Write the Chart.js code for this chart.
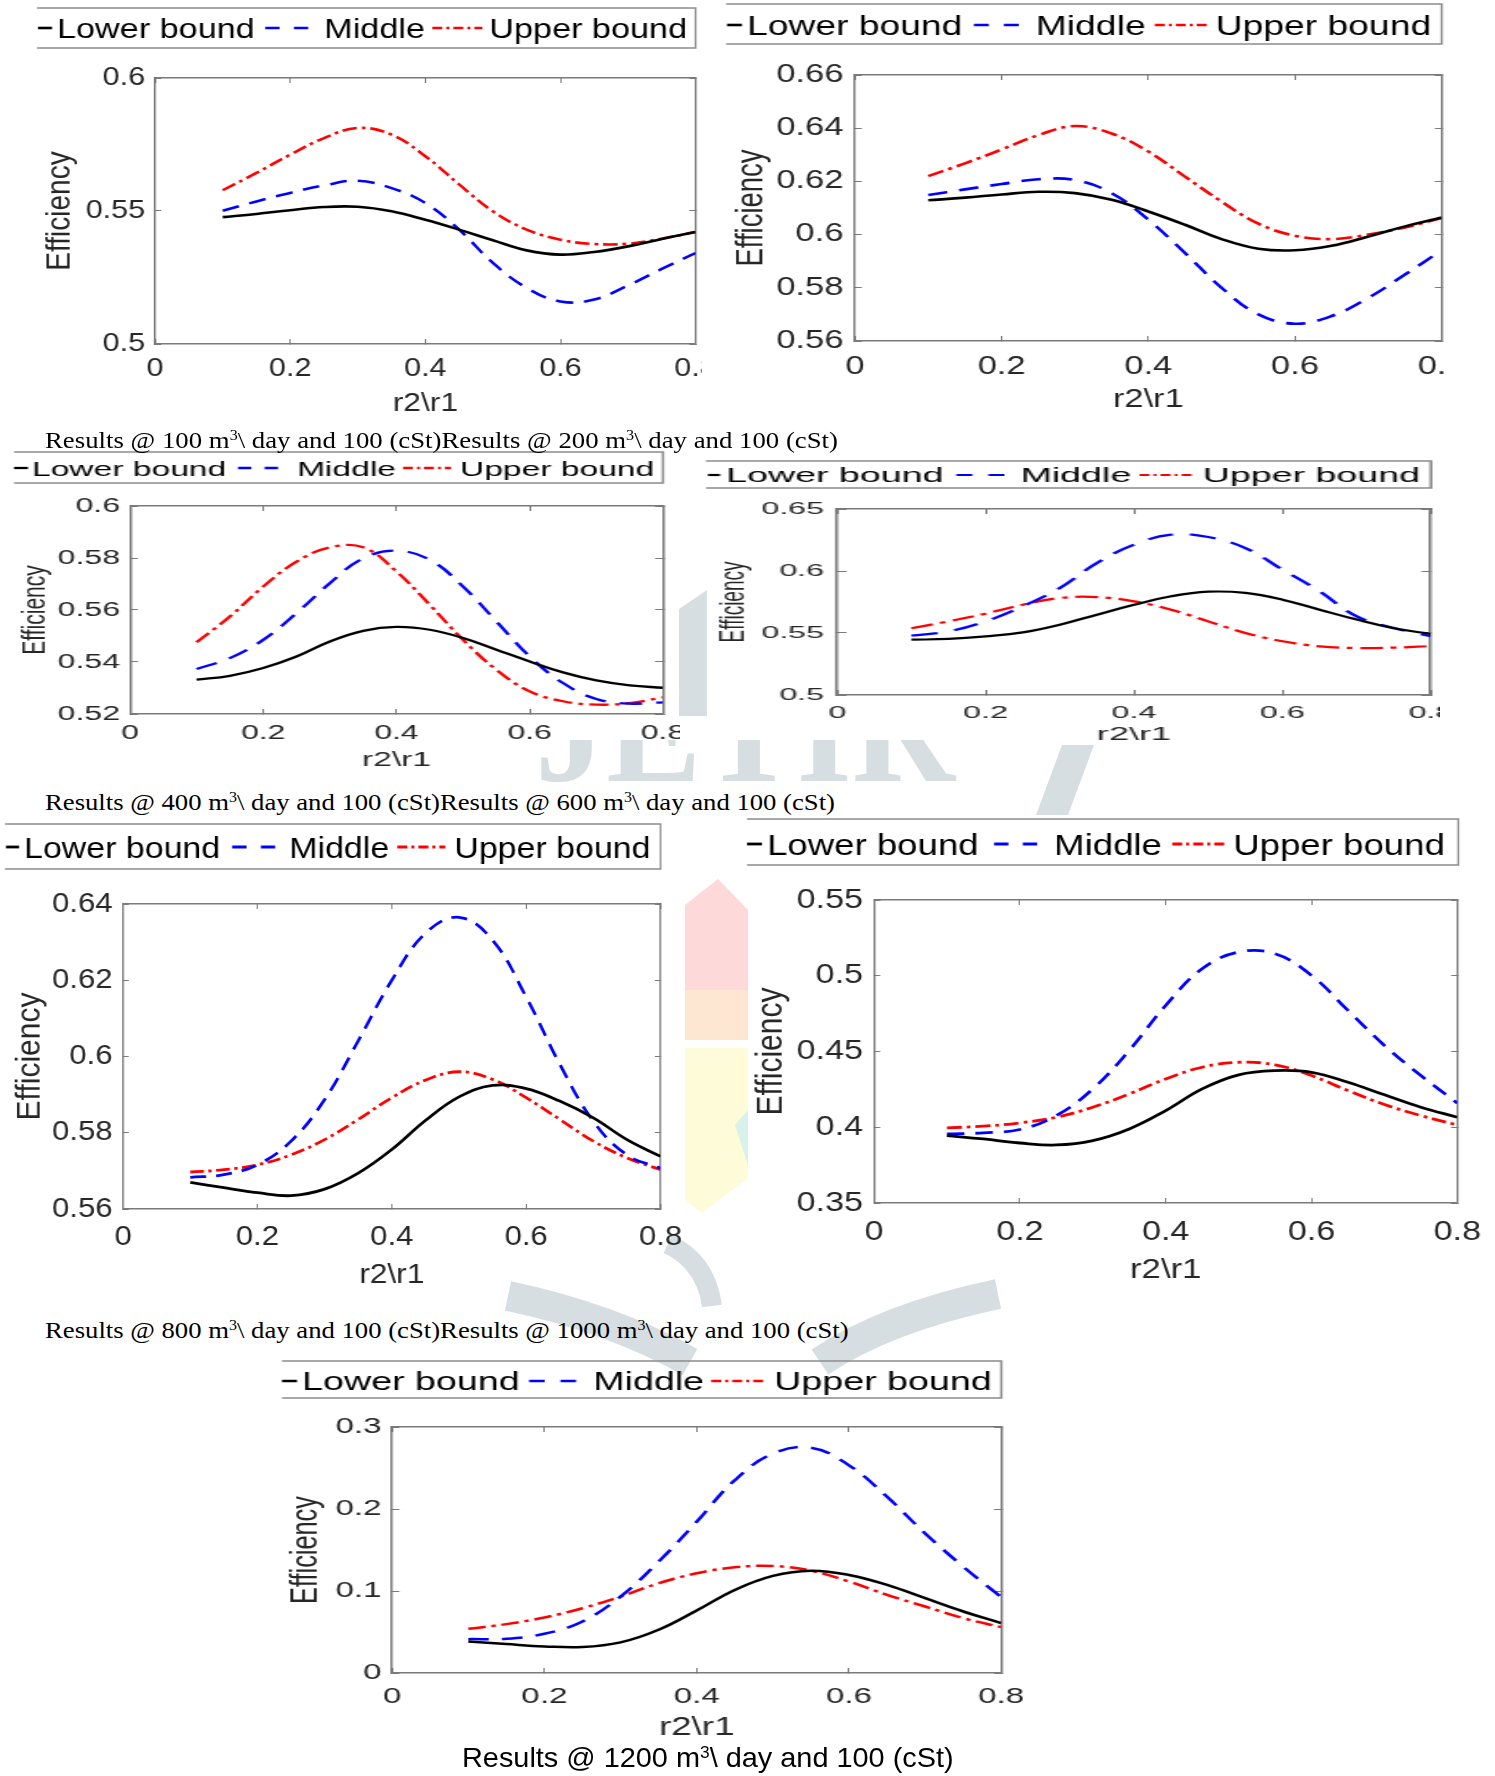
<!DOCTYPE html>
<html>
<head>
<meta charset="utf-8">
<script src="https://cdn.jsdelivr.net/npm/chart.js@4.4.1/dist/chart.umd.min.js"></script>
<style>
  html, body { margin: 0; padding: 0; background: #fff; }
  body { width: 1495px; height: 1776px; position: relative; overflow: hidden; }
  canvas { position: absolute; z-index: 1; }
  .cap { position: absolute; z-index: 2; white-space: nowrap; line-height: 1; transform-origin: 0 0; color: #000; }
  .serif { font-family: "Liberation Serif", "Times New Roman", serif; font-size: 23px; }
  .sans { font-family: "Liberation Sans", Arial, sans-serif; font-size: 28px; }
  .cap sup { font-size: 0.6em; line-height: 0; vertical-align: 0.55em; }
  #wm { position: absolute; left: 0; top: 0; z-index: 0; }
</style>
</head>
<body>

<!-- faint journal watermark, only the bits that show between the figures -->
<svg id="wm" width="1495" height="1776" viewBox="0 0 1495 1776">
  <defs>
    <clipPath id="letters"><rect x="400" y="740" width="600" height="42"/></clipPath>
  </defs>
  <g fill="#d7dee2">
    <polygon points="679,609 707,590 707,716 679,716"/>
    <polygon points="1062,745 1094,745 1068,815 1036,815"/>
  </g>
  <text x="535" y="781" clip-path="url(#letters)" font-family="Liberation Serif" font-weight="bold"
        font-size="150" fill="#d7dee2" textLength="420" lengthAdjust="spacingAndGlyphs">JETIR</text>
  <g fill="none" stroke="#d7dee2">
    <path d="M508 1296 Q 612 1318 690 1362" stroke-width="30"/>
    <path d="M998 1294 Q 885 1318 820 1362" stroke-width="30"/>
    <path d="M668 1244 Q 706 1262 712 1306" stroke-width="20"/>
  </g>
  <polygon points="685,905 718,879 748,910 748,990 685,990" fill="#fdd9da"/>
  <polygon points="685,990 748,990 748,1040 685,1040" fill="#fde6d2"/>
  <polygon points="685,1048 748,1048 748,1178 702,1213 685,1200" fill="#fefbd8"/>
  <polygon points="735,1125 748,1110 748,1165" fill="#d8f1ea"/>
</svg>

<div class="cap serif" data-w="793" style="left:45px;top:428.7px">Results @ 100 m<sup>3</sup>\ day and 100 (cSt)Results @ 200 m<sup>3</sup>\ day and 100 (cSt)</div>
<div class="cap serif" data-w="790" style="left:45px;top:790.7px">Results @ 400 m<sup>3</sup>\ day and 100 (cSt)Results @ 600 m<sup>3</sup>\ day and 100 (cSt)</div>
<div class="cap serif" data-w="803" style="left:45px;top:1318.7px">Results @ 800 m<sup>3</sup>\ day and 100 (cSt)Results @ 1000 m<sup>3</sup>\ day and 100 (cSt)</div>
<div class="cap sans" data-w="492" style="left:462px;top:1744.3px">Results @ 1200 m<sup>3</sup>\ day and 100 (cSt)</div>

<script>
// r2/r1 sample points shared by every panel
const r2r1 = [0.1, 0.15, 0.2, 0.25, 0.3, 0.35, 0.4, 0.45, 0.5, 0.55, 0.6, 0.65, 0.7, 0.75, 0.8];
const xTicks = [0, 0.2, 0.4, 0.6, 0.8];
const seriesNames = ['Lower bound', 'Middle', 'Upper bound'];

// 100 m3/day
const lower100  = [0.5477, 0.5489, 0.5503, 0.5515, 0.5516, 0.5499, 0.5467, 0.5430, 0.5390, 0.5352, 0.5336, 0.5346, 0.5367, 0.5395, 0.5421];
const middle100 = [0.5501, 0.5536, 0.5568, 0.5596, 0.5614, 0.5586, 0.5530, 0.5430, 0.5305, 0.5211, 0.5160, 0.5167, 0.5220, 0.5282, 0.5342];
const upper100  = [0.5578, 0.5643, 0.5712, 0.5774, 0.5812, 0.5787, 0.5706, 0.5600, 0.5499, 0.5430, 0.5392, 0.5376, 0.5377, 0.5396, 0.5421];
const yTicks100 = [0.5, 0.55, 0.6];

// 200 m3/day
const lower200  = [0.6129, 0.6139, 0.6151, 0.6161, 0.6156, 0.6131, 0.6087, 0.6037, 0.5983, 0.5947, 0.5941, 0.5958, 0.5993, 0.6031, 0.6064];
const middle200 = [0.6149, 0.6170, 0.6190, 0.6208, 0.6205, 0.6156, 0.6056, 0.5931, 0.5800, 0.5700, 0.5665, 0.5694, 0.5762, 0.5850, 0.5941];
const upper200  = [0.6220, 0.6268, 0.6320, 0.6374, 0.6408, 0.6380, 0.6312, 0.6218, 0.6124, 0.6041, 0.5996, 0.5983, 0.6000, 0.6027, 0.6062];
const yTicks200 = [0.56, 0.58, 0.6, 0.62, 0.64, 0.66];

// 400 m3/day
const lower400  = [0.5332, 0.5347, 0.5377, 0.5421, 0.5479, 0.5520, 0.5535, 0.5524, 0.5492, 0.5447, 0.5402, 0.5360, 0.5329, 0.5310, 0.5301];
const middle400 = [0.5373, 0.5415, 0.5485, 0.5588, 0.5703, 0.5799, 0.5828, 0.5793, 0.5690, 0.5556, 0.5421, 0.5319, 0.5258, 0.5240, 0.5245];
const upper400  = [0.5476, 0.5575, 0.5690, 0.5786, 0.5841, 0.5841, 0.5748, 0.5620, 0.5485, 0.5370, 0.5287, 0.5249, 0.5236, 0.5242, 0.5264];
const yTicks400 = [0.52, 0.54, 0.56, 0.58, 0.6];

// 600 m3/day
const lower600  = [0.5446, 0.5452, 0.5473, 0.5505, 0.5567, 0.5648, 0.5728, 0.5796, 0.5833, 0.5823, 0.5769, 0.5688, 0.5608, 0.5538, 0.5492];
const middle600 = [0.5479, 0.5513, 0.5594, 0.5715, 0.5863, 0.6065, 0.6212, 0.6293, 0.6274, 0.6185, 0.6011, 0.5836, 0.5634, 0.5540, 0.5473];
const upper600  = [0.5538, 0.5594, 0.5656, 0.5728, 0.5782, 0.5790, 0.5755, 0.5688, 0.5594, 0.5500, 0.5433, 0.5392, 0.5379, 0.5382, 0.5395];
const yTicks600 = [0.5, 0.55, 0.6, 0.65];

// 800 m3/day
const lower800  = [0.5670, 0.5656, 0.5643, 0.5635, 0.5652, 0.5694, 0.5756, 0.5832, 0.5894, 0.5924, 0.5916, 0.5883, 0.5839, 0.5782, 0.5738];
const middle800 = [0.5683, 0.5690, 0.5716, 0.5778, 0.5887, 0.6041, 0.6200, 0.6323, 0.6365, 0.6305, 0.6156, 0.5980, 0.5830, 0.5742, 0.5707];
const upper800  = [0.5697, 0.5703, 0.5716, 0.5742, 0.5782, 0.5835, 0.5892, 0.5938, 0.5960, 0.5940, 0.5892, 0.5835, 0.5778, 0.5734, 0.5703];
const yTicks800 = [0.56, 0.58, 0.6, 0.62, 0.64];

// 1000 m3/day
const lower1000  = [0.3945, 0.3923, 0.3896, 0.3883, 0.3912, 0.3989, 0.4110, 0.4253, 0.4346, 0.4374, 0.4363, 0.4297, 0.4214, 0.4132, 0.4066];
const middle1000 = [0.3956, 0.3963, 0.3985, 0.4077, 0.4253, 0.4507, 0.4804, 0.5046, 0.5156, 0.5145, 0.5002, 0.4771, 0.4540, 0.4341, 0.4159];
const upper1000  = [0.3996, 0.4007, 0.4029, 0.4066, 0.4132, 0.4220, 0.4319, 0.4396, 0.4429, 0.4412, 0.4341, 0.4242, 0.4150, 0.4077, 0.4015];
const yTicks1000 = [0.35, 0.4, 0.45, 0.5, 0.55];

// 1200 m3/day
const lower1200  = [0.0385, 0.0353, 0.0324, 0.0316, 0.0373, 0.0527, 0.0762, 0.1013, 0.1184, 0.1248, 0.1196, 0.1074, 0.0912, 0.0750, 0.0608];
const middle1200 = [0.0413, 0.0418, 0.0478, 0.0628, 0.0932, 0.1358, 0.1844, 0.2351, 0.2675, 0.2748, 0.2533, 0.2148, 0.1702, 0.1297, 0.0924];
const upper1200  = [0.0539, 0.0596, 0.0677, 0.0790, 0.0932, 0.1094, 0.1216, 0.1289, 0.1305, 0.1248, 0.1115, 0.0953, 0.0811, 0.0669, 0.0559];
const yTicks1200 = [0, 0.1, 0.2, 0.3];

const FONT = '"Liberation Sans", Arial, Helvetica, sans-serif';
const AXIS_GRAY = '#7a7a7a';
const TEXT_DARK = '#262626';
const LINE_COLORS = ['#000000', '#0000ff', '#ff0000'];
const LINE_DASHES = [[], [14, 9], [12, 4, 3, 4]];

// page layout of each panel (page px). sx = horizontal stretch of the scanned figure
const panels = [
  { left: 0, top: 0, width: 702, height: 425, sx: 1.22, plot: [155, 78, 695, 344],
    yTicks: yTicks100, tickFont: 25, yTickGap: 10, xTickY: 369,
    yTitleX: 60, yTitleFont: 28, xTitleY: 404, xTitleFont: 26, lw: 2.6,
    legend: { box: [37, 8, 695, 48], font: 28, cy: 28, items: [[38, 52, 57], [265, 308, 324], [432, 482, 489]] },
    series: [lower100, middle100, upper100] },
  { left: 725, top: 0, width: 720, height: 425, sx: 1.38, plot: [855, 75, 1442, 341],
    yTicks: yTicks200, tickFont: 25, yTickGap: 11.5, xTickY: 367,
    yTitleX: 752, yTitleFont: 27.5, xTitleY: 400, xTitleFont: 25, lw: 2.6,
    legend: { box: [726, 4, 1442, 44], font: 27, cy: 25, items: [[727, 742, 747], [974, 1019, 1036], [1155, 1209, 1216]] },
    series: [lower200, middle200, upper200] },
  { left: 0, top: 447, width: 680, height: 330, sx: 1.6, plot: [130, 506, 663, 714],
    yTicks: yTicks400, tickFont: 20, yTickGap: 10, xTickY: 733,
    yTitleX: 36, yTitleFont: 21, xTitleY: 760, xTitleFont: 21, lw: 2.3,
    legend: { box: [14, 452, 663, 483], font: 21, cy: 468, items: [[14, 28, 32], [238, 278, 297], [403, 451, 460]] },
    series: [lower400, middle400, upper400] },
  { left: 700, top: 453, width: 740, height: 300, sx: 1.9, plot: [837, 509, 1430, 695],
    yTicks: yTicks600, tickFont: 17, yTickGap: 13, xTickY: 713,
    yTitleX: 733, yTitleFont: 19, xTitleY: 735, xTitleFont: 19, lw: 2.2,
    legend: { box: [706, 461, 1430, 488], font: 19.8, cy: 475, items: [[708, 720, 726], [956, 1004, 1020], [1139, 1194, 1202]] },
    series: [lower600, middle600, upper600] },
  { left: 0, top: 820, width: 700, height: 475, sx: 1.13, plot: [123, 904, 660, 1209],
    yTicks: yTicks800, tickFont: 27.5, yTickGap: 10.5, xTickY: 1237,
    yTitleX: 30, yTitleFont: 30, xTitleY: 1275, xTitleFont: 28, lw: 2.8,
    legend: { box: [5, 824, 660, 869], font: 30, cy: 847, items: [[6, 19, 24], [232, 275, 289], [397, 445, 454]] },
    series: [lower800, middle800, upper800] },
  { left: 742, top: 815, width: 753, height: 475, sx: 1.24, plot: [874, 900, 1457, 1203],
    yTicks: yTicks1000, tickFont: 27.5, yTickGap: 11, xTickY: 1232,
    yTitleX: 771, yTitleFont: 30, xTitleY: 1270, xTitleFont: 28, lw: 2.8,
    legend: { box: [747, 819, 1458, 865], font: 29.5, cy: 844, items: [[747, 762, 767], [994, 1037, 1054], [1172, 1225, 1233]] },
    series: [lower1000, middle1000, upper1000] },
  { left: 280, top: 1355, width: 750, height: 392, sx: 1.47, plot: [392, 1427, 1001, 1673],
    yTicks: yTicks1200, tickFont: 22.5, yTickGap: 10.5, xTickY: 1697,
    yTitleX: 306, yTitleFont: 25.3, xTitleY: 1728, xTitleFont: 25, lw: 2.5,
    legend: { box: [282, 1361, 1001, 1398], font: 25.6, cy: 1381, items: [[282, 297, 302], [529, 576, 593], [711, 767, 774]] },
    series: [lower1200, middle1200, upper1200] }
];

function makePanel(p) {
  const W = Math.round(p.width / p.sx), H = p.height;
  const cv = document.createElement('canvas');
  cv.width = W; cv.height = H;
  cv.style.left = p.left + 'px'; cv.style.top = p.top + 'px';
  cv.style.width = p.width + 'px'; cv.style.height = H + 'px';
  document.body.appendChild(cv);

  // page px -> canvas px
  const ix = px => (px - p.left) / p.sx;
  const iy = py => py - p.top;
  const cL = ix(p.plot[0]), cT = iy(p.plot[1]), cR = ix(p.plot[2]), cB = iy(p.plot[3]);

  const tl = -5; // inward tick marks
  const zeroPad = sc => { sc.paddingLeft = 0; sc.paddingRight = 0; sc.paddingTop = 0; sc.paddingBottom = 0; };
  const useTicks = vals => sc => { sc.ticks = vals.map(v => ({ value: v })); };
  const grid = { drawOnChartArea: false, drawTicks: true, tickLength: tl, color: AXIS_GRAY, lineWidth: 1 };
  const border = { display: true, color: AXIS_GRAY, width: 1.5 };
  const tickFont = { family: FONT, size: p.tickFont, lineHeight: 1.2 };
  const yMin = p.yTicks[0], yMax = p.yTicks[p.yTicks.length - 1];

  const datasets = p.series.map((arr, i) => ({
    label: seriesNames[i],
    data: r2r1.map((x, k) => ({ x: x, y: arr[k] })),
    borderColor: LINE_COLORS[i],
    backgroundColor: LINE_COLORS[i],
    borderWidth: p.lw,
    borderDash: LINE_DASHES[i],
    pointRadius: 0,
    tension: 0.4,
    fill: false
  }));

  // MATLAB-style legend box drawn above the axes
  const boxLegend = {
    id: 'boxLegend',
    afterDraw(chart) {
      const ctx = chart.ctx, L = p.legend;
      const x0 = ix(L.box[0]), y0 = iy(L.box[1]), x1 = ix(L.box[2]), y1 = iy(L.box[3]);
      ctx.save();
      ctx.setLineDash([]);
      ctx.strokeStyle = '#8c8c8c';
      ctx.lineWidth = 1.5;
      ctx.beginPath();
      ctx.moveTo(x0, y0); ctx.lineTo(x1, y0); ctx.lineTo(x1, y1); ctx.lineTo(x0, y1);
      ctx.stroke();
      const cy = iy(L.cy);
      ctx.font = L.font + 'px ' + FONT;
      ctx.textAlign = 'left';
      ctx.textBaseline = 'alphabetic';
      chart.data.datasets.forEach((ds, i) => {
        const [a, b, t] = L.items[i];
        const len = b - a;
        const pat = i === 0 ? [] : (i === 1 ? [len / 3, len / 3] : [10, 4, 3, 4]);
        ctx.setLineDash(pat.map(v => v / p.sx));
        ctx.strokeStyle = ds.borderColor;
        ctx.lineWidth = ds.borderWidth;
        ctx.beginPath();
        ctx.moveTo(ix(a), cy); ctx.lineTo(ix(b), cy);
        ctx.stroke();
        ctx.setLineDash([]);
        ctx.fillStyle = '#000';
        ctx.fillText(ds.label, ix(t), cy + 0.358 * L.font);
      });
      ctx.restore();
    }
  };

  return new Chart(cv, {
    type: 'line',
    data: { datasets: datasets },
    options: {
      responsive: false,
      animation: false,
      devicePixelRatio: 1,
      events: [],
      layout: { autoPadding: false, padding: { left: 0, top: cT, right: W - cR, bottom: 0 } },
      plugins: { legend: { display: false }, tooltip: { enabled: false } },
      scales: {
        x: {
          type: 'linear', position: 'bottom', min: 0, max: 0.8,
          grid: grid, border: border,
          ticks: { font: tickFont, color: TEXT_DARK, maxRotation: 0, minRotation: 0, autoSkip: false,
                   padding: (p.xTickY - p.plot[3]) - tl - 0.6 * p.tickFont, callback: v => String(v) },
          title: { display: true, text: 'r2\\r1', color: TEXT_DARK,
                   font: { family: FONT, size: p.xTitleFont, lineHeight: 1.2 },
                   padding: { top: 0, bottom: H - iy(p.xTitleY) - 0.6 * p.xTitleFont } },
          afterBuildTicks: useTicks(xTicks),
          afterFit: sc => { sc.height = H - cB; zeroPad(sc); }
        },
        x2: {
          type: 'linear', position: 'top', min: 0, max: 0.8,
          grid: grid, border: border, ticks: { display: false },
          afterBuildTicks: useTicks(xTicks),
          afterFit: sc => { sc.height = 0; zeroPad(sc); }
        },
        y: {
          type: 'linear', position: 'left', min: yMin, max: yMax,
          grid: grid, border: border,
          ticks: { font: tickFont, color: TEXT_DARK, autoSkip: false,
                   padding: p.yTickGap / p.sx - tl, callback: v => String(v) },
          title: { display: true, text: 'Efficiency', color: TEXT_DARK,
                   font: { family: FONT, size: p.yTitleFont, lineHeight: 1.2 },
                   padding: { top: ix(p.yTitleX) - 0.6 * p.yTitleFont, bottom: 0 } },
          afterBuildTicks: useTicks(p.yTicks),
          afterFit: sc => { sc.width = cL; zeroPad(sc); }
        },
        y2: {
          type: 'linear', position: 'right', min: yMin, max: yMax,
          grid: grid, border: border, ticks: { display: false },
          afterBuildTicks: useTicks(p.yTicks),
          afterFit: sc => { sc.width = 0; zeroPad(sc); }
        }
      }
    },
    plugins: [boxLegend]
  });
}

panels.forEach(makePanel);

// squeeze the captions to the width they take in the scan
document.querySelectorAll('.cap').forEach(el => {
  const w = +el.dataset.w;
  el.style.transform = 'scaleX(' + (w / el.offsetWidth) + ')';
});
</script>
</body>
</html>
